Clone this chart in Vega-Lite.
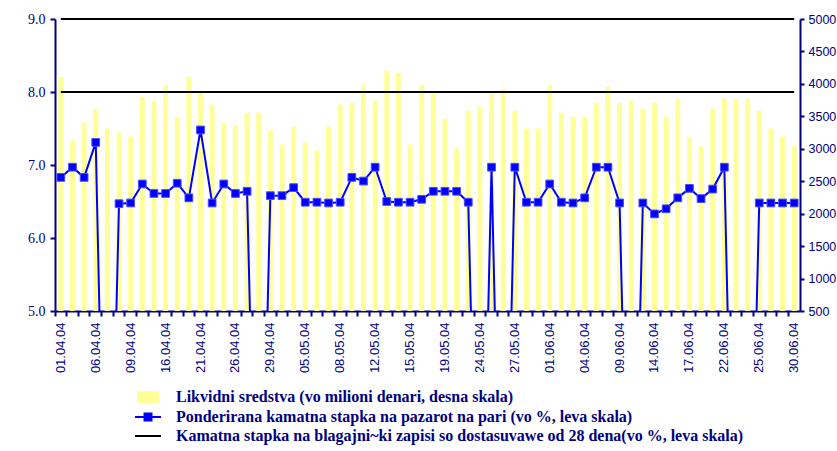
{
  "$schema": "https://vega.github.io/schema/vega-lite/v6.json",
  "width": 745,
  "height": 292,
  "autosize": "none",
  "padding": {"left": 55, "top": 19, "right": 37, "bottom": 140},
  "background": "white",
  "config": {"view": {"stroke": null}, "font": "Liberation Sans"},
  "data": {"values": [
    {"d": "01.04.04", "liq": 4110, "rate": 6.83, "t": 8},
    {"d": "02.04.04", "liq": 3127, "rate": 6.97, "t": 8},
    {"d": "05.04.04", "liq": 3403, "rate": 6.83, "t": 8},
    {"d": "06.04.04", "liq": 3618, "rate": 7.31, "t": 8},
    {"d": "07.04.04", "liq": 3311, "rate": 0, "t": 8},
    {"d": "08.04.04", "liq": 3249, "rate": 6.47, "t": 8},
    {"d": "09.04.04", "liq": 3188, "rate": 6.48, "t": 8},
    {"d": "14.04.04", "liq": 3802, "rate": 6.74, "t": 8},
    {"d": "15.04.04", "liq": 3741, "rate": 6.61, "t": 8},
    {"d": "16.04.04", "liq": 3987, "rate": 6.61, "t": 8},
    {"d": "19.04.04", "liq": 3495, "rate": 6.75, "t": 8},
    {"d": "20.04.04", "liq": 4110, "rate": 6.55, "t": 8},
    {"d": "21.04.04", "liq": 3895, "rate": 7.48, "t": 8},
    {"d": "22.04.04", "liq": 3680, "rate": 6.48, "t": 8},
    {"d": "23.04.04", "liq": 3403, "rate": 6.74, "t": 8},
    {"d": "26.04.04", "liq": 3372, "rate": 6.61, "t": 8},
    {"d": "27.04.04", "liq": 3557, "rate": 6.64, "t": 8},
    {"d": "28.04.04", "liq": 3557, "rate": 0, "t": 8},
    {"d": "29.04.04", "liq": 3280, "rate": 6.58, "t": 8},
    {"d": "30.04.04", "liq": 3065, "rate": 6.58, "t": 8},
    {"d": "04.05.04", "liq": 3342, "rate": 6.69, "t": 8},
    {"d": "05.05.04", "liq": 3096, "rate": 6.49, "t": 8},
    {"d": "06.05.04", "liq": 2973, "rate": 6.49, "t": 8},
    {"d": "07.05.04", "liq": 3342, "rate": 6.48, "t": 8},
    {"d": "08.05.04", "liq": 3680, "rate": 6.49, "t": 8},
    {"d": "10.05.04", "liq": 3710, "rate": 6.83, "t": 8},
    {"d": "11.05.04", "liq": 3987, "rate": 6.78, "t": 8},
    {"d": "12.05.04", "liq": 3741, "rate": 6.97, "t": 8},
    {"d": "13.05.04", "liq": 4202, "rate": 6.50, "t": 8},
    {"d": "14.05.04", "liq": 4171, "rate": 6.49, "t": 8},
    {"d": "15.05.04", "liq": 3065, "rate": 6.49, "t": 8},
    {"d": "17.05.04", "liq": 3987, "rate": 6.53, "t": 8},
    {"d": "18.05.04", "liq": 3853, "rate": 6.64, "t": 8},
    {"d": "19.05.04", "liq": 3464, "rate": 6.64, "t": 8},
    {"d": "20.05.04", "liq": 3004, "rate": 6.64, "t": 8},
    {"d": "21.05.04", "liq": 3587, "rate": 6.49, "t": 8},
    {"d": "24.05.04", "liq": 3649, "rate": 0, "t": 8},
    {"d": "25.05.04", "liq": 3864, "rate": 6.97, "t": 8},
    {"d": "26.05.04", "liq": 3925, "rate": 0, "t": 8},
    {"d": "27.05.04", "liq": 3587, "rate": 6.97, "t": 8},
    {"d": "28.05.04", "liq": 3311, "rate": 6.49, "t": 8},
    {"d": "31.05.04", "liq": 3311, "rate": 6.49, "t": 8},
    {"d": "01.06.04", "liq": 3987, "rate": 6.74, "t": 8},
    {"d": "02.06.04", "liq": 3557, "rate": 6.49, "t": 8},
    {"d": "03.06.04", "liq": 3495, "rate": 6.48, "t": 8},
    {"d": "04.06.04", "liq": 3495, "rate": 6.55, "t": 8},
    {"d": "07.06.04", "liq": 3710, "rate": 6.97, "t": 8},
    {"d": "08.06.04", "liq": 3956, "rate": 6.97, "t": 8},
    {"d": "09.06.04", "liq": 3710, "rate": 6.48, "t": 8},
    {"d": "10.06.04", "liq": 3741, "rate": 0, "t": 8},
    {"d": "11.06.04", "liq": 3618, "rate": 6.48, "t": 8},
    {"d": "14.06.04", "liq": 3710, "rate": 6.33, "t": 8},
    {"d": "15.06.04", "liq": 3495, "rate": 6.40, "t": 8},
    {"d": "16.06.04", "liq": 3772, "rate": 6.55, "t": 8},
    {"d": "17.06.04", "liq": 3188, "rate": 6.68, "t": 8},
    {"d": "18.06.04", "liq": 3034, "rate": 6.54, "t": 8},
    {"d": "21.06.04", "liq": 3618, "rate": 6.67, "t": 8},
    {"d": "22.06.04", "liq": 3772, "rate": 6.97, "t": 8},
    {"d": "23.06.04", "liq": 3772, "rate": 0, "t": 8},
    {"d": "24.06.04", "liq": 3772, "rate": 0, "t": 8},
    {"d": "25.06.04", "liq": 3587, "rate": 6.48, "t": 8},
    {"d": "28.06.04", "liq": 3311, "rate": 6.48, "t": 8},
    {"d": "29.06.04", "liq": 3188, "rate": 6.48, "t": 8},
    {"d": "30.06.04", "liq": 3034, "rate": 6.48, "t": 8}
  ]},
  "layer": [
    {
      "mark": {"type": "bar", "size": 5, "clip": true},
      "encoding": {
        "x": {
          "field": "d", "type": "ordinal", "sort": null,
          "scale": {"paddingInner": 0, "paddingOuter": 0},
          "axis": {
            "title": null, "labelAngle": -90, "labelOverlap": false,
            "labelExpr": "indexof(['01.04.04','06.04.04','09.04.04','16.04.04','21.04.04','26.04.04','29.04.04','05.05.04','08.05.04','12.05.04','15.05.04','19.05.04','24.05.04','27.05.04','01.06.04','04.06.04','09.06.04','14.06.04','17.06.04','22.06.04','25.06.04','30.06.04'], datum.value) >= 0 ? datum.value : ''",
            "labelFont": "Liberation Sans", "labelFontSize": 13, "labelColor": "#000080",
            "domainColor": "#000080", "domainWidth": 2, "tickColor": "#000080", "tickWidth": 2,
            "tickSize": 5, "labelPadding": 6, "bandPosition": 0
          }
        },
        "y": {
          "field": "liq", "type": "quantitative",
          "scale": {"domain": [500, 5000], "nice": false, "zero": false},
          "axis": {
            "orient": "right", "title": null, "grid": false,
            "values": [500, 1000, 1500, 2000, 2500, 3000, 3500, 4000, 4500, 5000], "format": "d",
            "labelFont": "Liberation Sans", "labelFontSize": 12.5, "labelColor": "#000080",
            "domainColor": "#000080", "domainWidth": 2, "tickColor": "#000080", "tickWidth": 2,
            "tickSize": 4, "labelPadding": 4
          }
        },
        "color": {
          "datum": "Likvidni sredstva (vo milioni denari, desna skala)", "type": "nominal",
          "scale": {
            "domain": [
              "Likvidni sredstva (vo milioni denari, desna skala)",
              "Ponderirana kamatna stapka na pazarot na pari (vo %, leva skala)",
              "Kamatna stapka na blagajni~ki zapisi so dostasuvawe od 28 dena(vo %, leva skala)"
            ],
            "range": ["#FFFF99", "#0000FF", "#000000"]
          },
          "legend": {
            "orient": "none", "legendX": 85, "legendY": 370, "title": null, "direction": "vertical",
            "padding": 0, "labelFont": "Liberation Serif", "labelFontWeight": "bold", "labelFontSize": 16,
            "labelColor": "#000080", "labelLimit": 1000, "symbolSize": 196, "labelOffset": 20, "rowPadding": 3,
            "encoding": {
              "symbols": {
                "shape": {"value": {"expr": "indexof(datum.value, 'Likvidni') == 0 ? 'M-1.43,-0.71H1.43V0.71H-1.43Z' : indexof(datum.value, 'Ponderirana') == 0 ? 'M-1.86,0H1.86M-0.5,-0.5H0.5V0.5H-0.5Z' : 'M-1.86,0H1.86'"}},
                "fill": {"value": {"expr": "indexof(datum.value, 'Likvidni') == 0 ? '#FFFF99' : indexof(datum.value, 'Ponderirana') == 0 ? '#0000FF' : 'transparent'"}},
                "stroke": {"value": {"expr": "indexof(datum.value, 'Likvidni') == 0 ? 'transparent' : indexof(datum.value, 'Ponderirana') == 0 ? '#0000FF' : '#000000'"}},
                "strokeWidth": {"value": 2},
                "opacity": {"value": 1}
              }
            }
          }
        }
      }
    },
    {
      "layer": [
        {
          "mark": {"type": "line", "color": "#000000", "strokeWidth": 2},
          "encoding": {
            "x": {"field": "d", "type": "ordinal", "sort": null},
            "y": {"datum": 9, "type": "quantitative"}
          }
        },
        {
          "mark": {"type": "line", "strokeWidth": 2},
          "encoding": {
            "x": {"field": "d", "type": "ordinal", "sort": null},
            "y": {
              "field": "t", "type": "quantitative",
              "scale": {"domain": [5, 9], "nice": false, "zero": false},
              "axis": {
                "orient": "left", "title": null, "grid": false, "values": [5, 6, 7, 8, 9], "format": ".1f",
                "labelFont": "Liberation Serif", "labelFontSize": 14, "labelColor": "#000080",
                "domainColor": "#000080", "domainWidth": 2, "tickColor": "#000080", "tickWidth": 2,
                "tickSize": 5, "labelPadding": 5
              }
            },
            "color": {"datum": "Kamatna stapka na blagajni~ki zapisi so dostasuvawe od 28 dena(vo %, leva skala)", "type": "nominal"}
          }
        },
        {
          "mark": {"type": "line", "strokeWidth": 2, "clip": true},
          "encoding": {
            "x": {"field": "d", "type": "ordinal", "sort": null},
            "y": {"field": "rate", "type": "quantitative"},
            "color": {"datum": "Ponderirana kamatna stapka na pazarot na pari (vo %, leva skala)", "type": "nominal"}
          }
        },
        {
          "transform": [{"filter": "datum.rate > 0"}],
          "mark": {"type": "point", "shape": "square", "filled": true, "size": 60, "opacity": 1, "stroke": "#4d4dff", "strokeWidth": 1, "clip": true},
          "encoding": {
            "x": {"field": "d", "type": "ordinal", "sort": null},
            "y": {"field": "rate", "type": "quantitative"},
            "color": {"datum": "Ponderirana kamatna stapka na pazarot na pari (vo %, leva skala)", "type": "nominal"}
          }
        }
      ]
    }
  ],
  "resolve": {"scale": {"y": "independent"}}
}
